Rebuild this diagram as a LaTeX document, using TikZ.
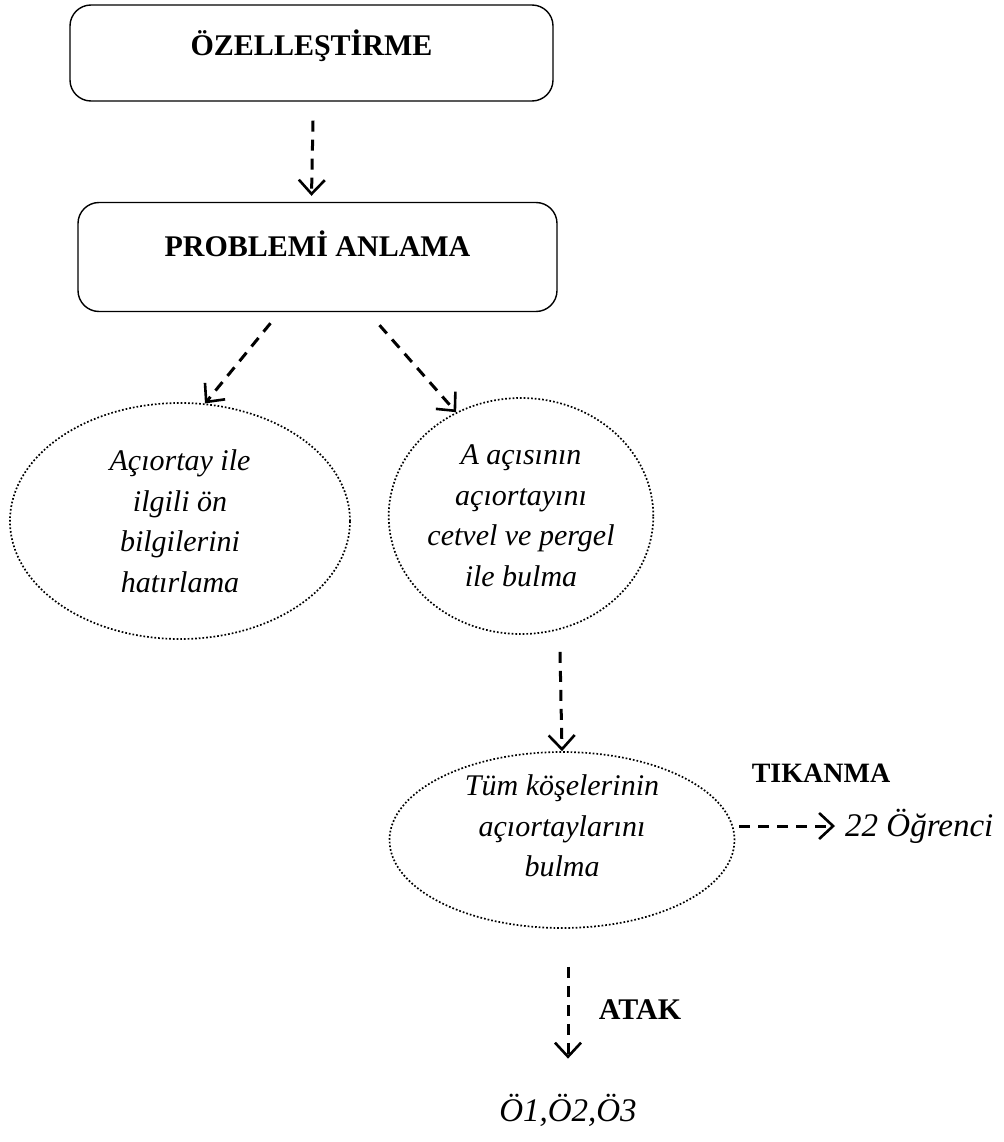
\documentclass[tikz,border=0pt]{standalone}
\usepackage{fontspec}
\setmainfont{Liberation Serif}
\usetikzlibrary{arrows.meta, positioning, shapes.geometric}

\begin{document}
\begin{tikzpicture}[
  x=1pt, y=-1pt,
  font=\fontsize{30}{40.5}\selectfont,
  stage/.style={draw, rounded corners=21pt, line width=1.4pt, inner sep=0pt,
                font=\fontsize{30}{36}\selectfont\bfseries, text height=22pt},
  oval/.style={draw, ellipse, dotted, line width=1.7pt, align=center,
               inner sep=0pt, font=\fontsize{30}{40.5}\selectfont\itshape},
  tag/.style={font=\fontsize{30}{36}\selectfont\bfseries, inner sep=2pt},
  res/.style={font=\fontsize{33}{40}\selectfont\itshape, inner sep=2pt},
  flow/.style={-{Straight Barb[length=14pt, width=26pt, line width=2.6pt]},
               line width=3pt, dash pattern=on 11pt off 8pt}]

  \useasboundingbox (0,0) rectangle (1003,1142);

  % stages
  \node[stage, minimum width=483pt, minimum height=96pt, text depth=16pt]
    (spec) at (311.5,53) {ÖZELLEŞTİRME};
  \node[stage, minimum width=479pt, minimum height=109pt, text depth=24pt]
    (prob) at (317.5,257) {PROBLEMİ ANLAMA};

  % ovals
  \node[oval, minimum width=340pt, minimum height=236pt]
    (prior) at (180,521) {Açıortay ile\\ ilgili ön\\ bilgilerini\\ hatırlama};
  \node[oval, minimum width=262pt, minimum height=236pt]
    (angle) at (521,516) {A açısının\\ açıortayını\\ cetvel ve pergel\\ ile bulma};
  \node[oval, minimum width=345pt, minimum height=176pt,
        label={[oval, draw=none, yshift=14pt]center:{Tüm köşelerinin\\ açıortaylarını\\ bulma}}]
    (corner) at (562,840) {};

  % outcomes
  \node[tag, font=\fontsize{28}{34}\selectfont\bfseries] (stuck) at (821,773) {TIKANMA};
  \node[res, anchor=west] (count) at (843,826) {22 Öğrenci};
  \node[tag] (attack) at (640,1010) {ATAK};
  \node[res] (who) at (568,1110) {Ö1,Ö2,Ö3};

  % flows
  \draw[flow] (spec.south) ++(1.5,19) -- ([yshift=6pt]prob.north -| spec.south);
  \draw[flow] (prob.south) ++(-47,11) -- (prior.78);
  \draw[flow] (prob.south) ++(62,13) -- (angle.122);
  \draw[flow] (corner.north |- angle.south) ++(-2,17) -- (corner.north);
  \draw[flow] (corner.east) ++(4,-14) -- ([xshift=-8pt]count.west);
  \draw[flow] (who.north |- corner.south) ++(0,38) -- ([yshift=33pt]who.north);
\end{tikzpicture}
\end{document}
